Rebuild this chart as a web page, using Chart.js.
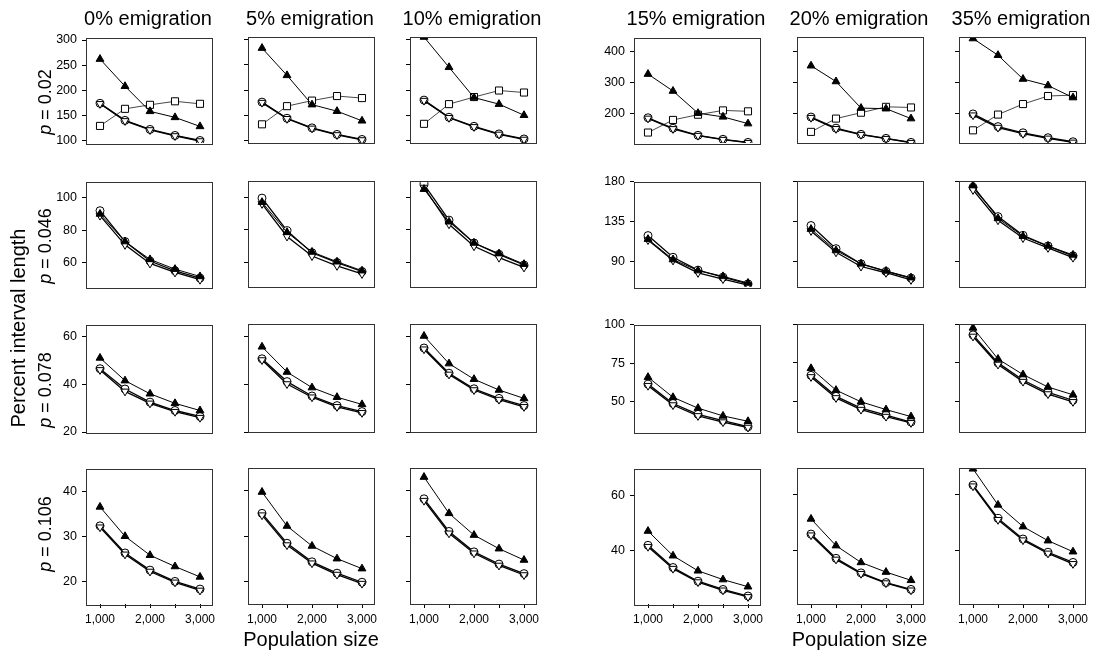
<!DOCTYPE html>
<html><head><meta charset="utf-8">
<script src="https://cdn.jsdelivr.net/npm/chart.js@4.4.1/dist/chart.umd.min.js"></script>
<style>
body{margin:0;background:#fff;width:1100px;height:652px;position:relative;overflow:hidden;font-family:"Liberation Sans",Arial,sans-serif;color:#000;}
canvas{position:absolute;}
.t{position:absolute;font-size:20px;white-space:nowrap;transform:translate(-50%,-50%);}
.r{position:absolute;white-space:nowrap;transform:translate(-50%,-50%) rotate(-90deg);}
</style></head><body>
<script>
// ---------- data ----------
const populationSizes = [1000, 1500, 2000, 2500, 3000];
const xTickLabels = ['1,000', '', '2,000', '', '3,000'];
const emigrationTitles = ['0% emigration', '5% emigration', '10% emigration', '15% emigration', '20% emigration', '35% emigration'];
const pValues = ['0.02', '0.046', '0.078', '0.106'];

// each array: six panels (0%,5%,10%,15%,20%,35% emigration), five population sizes
const triangles_p002 = [[262,208,158,146,128],[283,229,171,158,139],[305,245,185,172,150],[327,272,200,188,166],[353,302,216,214,182],[441,387,310,289,250]];
const squares_p002   = [[129,163,171,178,173],[132,168,179,188,184],[133,172,186,199,195],[137,178,195,209,206],[139,182,201,220,218],[144,195,229,255,258]];
const circles_p002   = [[174,140,122,110,100],[176,144,125,112,102],[180,146,128,113,103],[185,151,128,115,105],[187,151,131,118,105],[197,156,136,120,107]];
const downTri_p002   = [[173,139,121,109,99],[175,143,124,111,101],[179,145,127,112,102],[183,149,127,114,104],[185,149,130,117,104],[193,153,133,118,105]];

const triangles_p046 = [[90,73,62,56,51.5],[97,78.5,66.5,60.5,55],[105,85,72,65.5,59],[115,92,79.5,73,65.5],[126,102,87,79,71.5],[175,138,118,107,97]];
const circles_p046   = [[92,73,61,55,50.5],[99.5,79.5,66,60,54.5],[108,86,72,65,58.5],[119,94.5,80,72,64.5],[130,104,87,78.5,71],[173,140,119,107,96]];
const downTri_p046   = [[89,71,59.5,54,49.5],[96,76,64,58,53],[106,83.5,70,63,57],[114,91,77,70,63],[124,100,84,77,69],[170,136,116,105,94]];

const triangles_p078 = [[51,41.5,36,32,29],[55.5,45,38.5,34.5,31.5],[60,48.5,42,37.5,34],[66,53,46,41,37.5],[71.5,57.5,50,45,40.5],[97.5,77.5,67.5,59.5,54.5]];
const circles_p078   = [[46.5,38,32.5,29,26.5],[50.5,41,35,31,28.5],[55,44.5,38,34,31],[61.5,49,42,38,34],[67,53.5,46,41.5,37],[93,75,64,56,51]];
const downTri_p078   = [[46,37,32,28.5,26],[50,40,34.5,30.5,28],[54.5,44,37.5,33.5,30.5],[60.5,48,41,37,33.5],[66,52.5,45,40.5,36.5],[92,74,63,55,50]];

const triangles_p106 = [[36.5,30,25.8,23.3,21],[39.7,32.2,27.8,25,22.8],[43,35,30.2,27.2,24.7],[47,38,32.5,29.3,26.7],[51.3,41.6,35.5,32,29],[69.5,56.4,48.5,43.4,39.4]];
const circles_p106   = [[32.3,26.3,22.5,20,18.3],[35,28.4,24.3,21.8,19.8],[38.2,31,26.5,23.8,21.7],[41.8,33.7,28.7,25.7,23.3],[45.8,37,31.7,28.2,25.7],[63.6,51.5,44,39.2,35.5]];
const downTri_p106   = [[32,26,22.2,19.8,18],[34.6,28,24,21.5,19.5],[37.8,30.6,26.2,23.5,21.4],[41.3,33.3,28.4,25.4,23],[45.4,36.6,31.4,28,25.4],[63.2,51,43.6,38.8,35]];

// y tick values per row: left group (0-10%) and right group (15-35%)
const yTicksLeft  = [[100,150,200,250,300],[60,80,100],[20,40,60],[20,30,40]];
const yTicksRight = [[200,300,400],[90,135,180],[50,75,100],[40,60]];
const yRangeLeft  = [[95,305],[45,110],[20,65],[15,45]];
const yRangeRight = [[103,446],[61,180],[30.6,100],[20.4,69.8]];
const xRange = [720, 3240];

// ---------- layout ----------
const FONT = '"Liberation Sans", Arial, sans-serif';
const colLeft = [86, 248, 410, 634, 797, 959], plotW = 126;
const rowTop = [37, 181, 324, 468], rowBottom = [171, 315, 460, 604];
const AXW = 45, PADT = 12, PADR = 14, PADB = 10, XAXH = 28;

const rowData = [
  {tri: triangles_p002, sq: squares_p002, circ: circles_p002, down: downTri_p002},
  {tri: triangles_p046, sq: null, circ: circles_p046, down: downTri_p046},
  {tri: triangles_p078, sq: null, circ: circles_p078, down: downTri_p078},
  {tri: triangles_p106, sq: null, circ: circles_p106, down: downTri_p106}
];

const framePlugin = {
  id: 'frame',
  afterDatasetsDraw(chart) {
    const a = chart.chartArea, c = chart.ctx;
    c.save();
    c.strokeStyle = '#333';
    c.lineWidth = 1;
    c.strokeRect(Math.round(a.left) + 0.5, Math.round(a.top) + 0.5, Math.round(a.right - a.left), Math.round(a.bottom - a.top));
    c.restore();
  }
};

function pts(arr) { return arr.map((v, i) => ({x: populationSizes[i], y: v})); }

function addText(cls, html, x, y, size, extra) {
  const d = document.createElement('div');
  d.className = cls;
  d.innerHTML = html;
  d.style.left = x + 'px';
  d.style.top = y + 'px';
  d.style.fontSize = size + 'px';
  if (extra) Object.assign(d.style, extra);
  document.body.appendChild(d);
}

for (let r = 0; r < 4; r++) {
  for (let c = 0; c < 6; c++) {
    const last = r === 3;
    const right = c >= 3;
    const showY = c === 0 || c === 3;
    const ticksY = right ? yTicksRight[r] : yTicksLeft[r];
    const rangeY = right ? yRangeRight[r] : yRangeLeft[r];
    const h = rowBottom[r] - rowTop[r];
    const cw = plotW + AXW + PADR;
    const ch = h + PADT + (last ? XAXH : PADB);
    const cv = document.createElement('canvas');
    cv.width = cw; cv.height = ch;
    cv.style.left = (colLeft[c] - AXW) + 'px';
    cv.style.top = (rowTop[r] - PADT) + 'px';
    cv.style.width = cw + 'px'; cv.style.height = ch + 'px';
    document.body.appendChild(cv);

    const d = rowData[r];
    const datasets = [];
    datasets.push({data: pts(d.tri[c]), borderColor: '#000', borderWidth: 1, pointStyle: 'triangle', pointRadius: 4.5,
      pointBackgroundColor: '#000', pointBorderColor: '#000', pointBorderWidth: 1, order: 0});
    datasets.push({data: pts(d.down[c]), borderColor: '#000', borderWidth: 1.3, pointStyle: 'triangle', pointRotation: 180, pointRadius: 4.5,
      pointBackgroundColor: '#fff', pointBorderColor: '#000', pointBorderWidth: 1, order: 1});
    datasets.push({data: pts(d.circ[c]), borderColor: '#000', borderWidth: 1.3, pointStyle: 'circle', pointRadius: 4,
      pointBackgroundColor: '#fff', pointBorderColor: '#000', pointBorderWidth: 1, order: 2});
    if (d.sq) datasets.push({data: pts(d.sq[c]), borderColor: '#333', borderWidth: 0.9, pointStyle: 'rect', pointRadius: 5,
      pointBackgroundColor: '#fff', pointBorderColor: '#000', pointBorderWidth: 1, order: 3});

    new Chart(cv, {
      type: 'line',
      data: {datasets},
      plugins: [framePlugin],
      options: {
        responsive: false, animation: false, events: [], devicePixelRatio: 1,
        layout: {padding: {left: 0, top: PADT, right: PADR, bottom: last ? 0 : PADB}},
        plugins: {legend: {display: false}, tooltip: {enabled: false}},
        elements: {line: {tension: 0, fill: false}},
        scales: {
          x: {
            type: 'linear', min: xRange[0], max: xRange[1], display: last,
            afterBuildTicks: s => { s.ticks = populationSizes.map(v => ({value: v})); },
            afterFit: s => { s.height = XAXH; },
            grid: {drawOnChartArea: false, drawTicks: true, tickLength: 4, color: '#000'},
            border: {display: false},
            ticks: {autoSkip: false, maxRotation: 0, minRotation: 0, padding: 4, color: '#000',
              font: {family: FONT, size: 12}, callback: (v, i) => xTickLabels[i]}
          },
          y: {
            type: 'linear', min: rangeY[0], max: rangeY[1],
            afterBuildTicks: s => { s.ticks = ticksY.map(v => ({value: v})); },
            afterFit: s => { s.width = AXW; },
            grid: {drawOnChartArea: false, drawTicks: true, tickLength: 4, color: '#000'},
            border: {display: false},
            ticks: {display: showY, padding: 5, color: '#000', font: {family: FONT, size: 12.5},
              callback: v => String(v)}
          }
        }
      }
    });
  }
}

// titles
for (let c = 0; c < 6; c++) addText('t', emigrationTitles[c], colLeft[c] + plotW / 2 - 1, 18, 20);
// row labels
for (let r = 0; r < 4; r++) addText('r', '<i>p</i> = ' + pValues[r], 45, (rowTop[r] + rowBottom[r]) / 2 - 2, 18);
addText('r', 'Percent interval length', 18, 328, 20);
addText('t', 'Population size', (colLeft[0] + colLeft[2] + plotW) / 2, 639, 20);
addText('t', 'Population size', (colLeft[3] + colLeft[5] + plotW) / 2, 639, 20);
</script>
</body></html>
